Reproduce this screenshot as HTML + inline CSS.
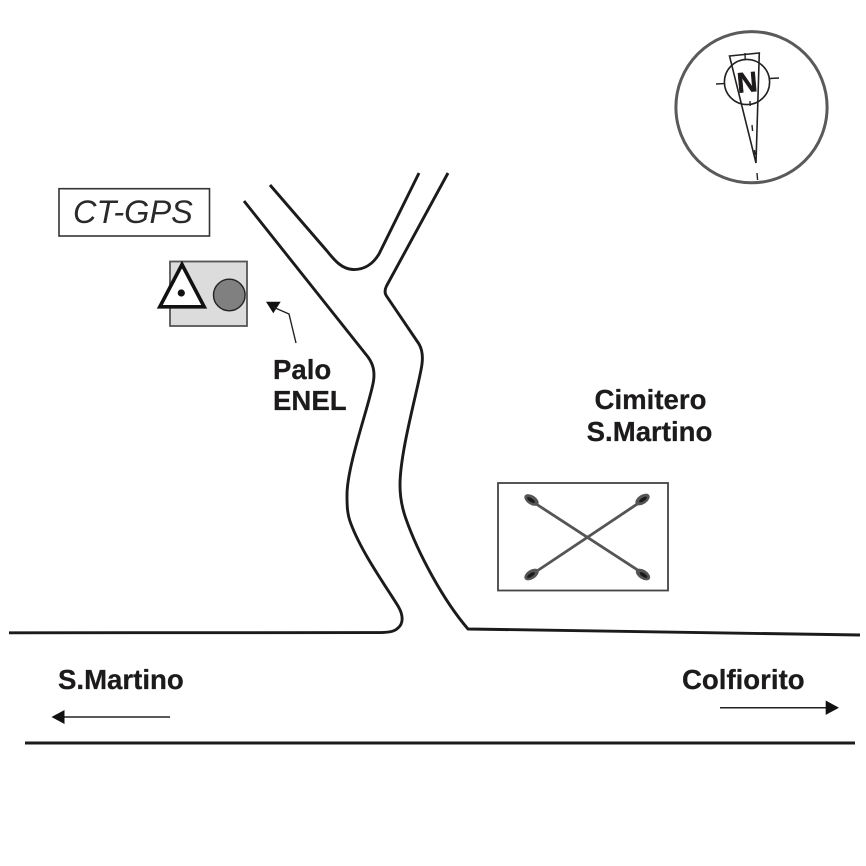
<!DOCTYPE html>
<html>
<head>
<meta charset="utf-8">
<style>
html,body{margin:0;padding:0;background:#fff;}
svg{display:block;}
text{font-family:"Liberation Sans",Arial,sans-serif;fill:#1c1a1b;}
.b{font-weight:bold;font-size:27.6px;stroke:#1c1a1b;stroke-width:0.25px;}
</style>
</head>
<body>
<svg width="866" height="866" viewBox="0 0 866 866" xmlns="http://www.w3.org/2000/svg">
<rect width="866" height="866" fill="#fff"/>

<!-- compass -->
<circle cx="751.5" cy="107.2" r="75.6" fill="none" stroke="#5a5a5a" stroke-width="3"/>
<circle cx="747" cy="82" r="22.6" fill="none" stroke="#222" stroke-width="1.6"/>
<path d="M729.5 56 L759.3 53 L756 163 Z" fill="none" stroke="#222" stroke-width="1.6"/>
<path d="M716 84 L724 83.6 M770 78.5 L779 78 M745 53 L745.2 59 M750 101 L750.2 106 M752 125 L752.6 131 M754.5 150 L755 155 M757 173 L757.6 180" stroke="#222" stroke-width="1.4" fill="none"/>
<text x="0" y="0" transform="translate(748 92) rotate(-5)" text-anchor="middle" style="font-weight:bold;font-size:28.5px;stroke:#1c1a1b;stroke-width:0.5px">N</text>

<!-- CT-GPS label -->
<rect x="59" y="188.7" width="150.5" height="47.3" fill="#fff" stroke="#333" stroke-width="1.6"/>
<text x="73" y="223" style="font-style:italic;font-size:32.5px;fill:#2a2a2a">CT-GPS</text>

<!-- station -->
<rect x="170" y="261.5" width="77" height="64.5" fill="#dcdcdc" stroke="#555" stroke-width="1.8"/>
<path d="M182 264.5 L159.8 306.8 L204.2 306.8 Z" fill="#fff" stroke="#111" stroke-width="3.6" stroke-linejoin="miter"/>
<circle cx="181.3" cy="293" r="3.6" fill="#111"/>
<circle cx="229.3" cy="295" r="15.8" fill="#808080" stroke="#222" stroke-width="1.4"/>

<!-- Palo pointer -->
<path d="M266 301.7 L280.7 301.7 L273.3 313.3 Z" fill="#111"/>
<path d="M273 307 L289 314 L296 343" fill="none" stroke="#222" stroke-width="1.4"/>
<text class="b" x="273" y="379">Palo</text>
<text class="b" x="273" y="410">ENEL</text>

<!-- roads -->
<g fill="none" stroke="#1c1a1b" stroke-width="2.9" stroke-linecap="butt" stroke-linejoin="round">
<path d="M270 185 L327 251 C335 261 342 269 353 269.5 C364 270 373 264 379 254 L419 173"/>
<path d="M244 201 L368 357 C373 364 375 371 373.5 381 C370 403 347 465 347 495 C347 505 347 514 351 524 C362 553 385 585 398 606 C404 616 403 624 398 628 C394 632 388 632.5 378 632.6 L9 632.8"/>
<path d="M448 173 L386.5 286 C384.5 290 384.5 293 386.5 296 L419 344 C422.5 350 423 356 422 364 C419.5 384 400 450 400 485 C400 498 402 508 406 519 C418 553 443 600 468 629 L860 635"/>
<path d="M25 743 L855 743"/>
</g>

<!-- Cimitero -->
<text class="b" x="650.5" y="409" text-anchor="middle">Cimitero</text>
<text class="b" x="649.5" y="441" text-anchor="middle">S.Martino</text>
<rect x="498" y="483" width="170" height="107.5" fill="#fff" stroke="#444" stroke-width="1.8"/>
<path d="M530 500 L644.5 574.5 M644 499.5 L531 575" stroke="#555" stroke-width="2.8" fill="none"/>
<g fill="#555">
<ellipse cx="531.5" cy="500" rx="8" ry="4.6" transform="rotate(33 531.5 500)"/>
<ellipse cx="642.5" cy="499.5" rx="8" ry="4.6" transform="rotate(-33 642.5 499.5)"/>
<ellipse cx="531.5" cy="574.5" rx="8" ry="4.6" transform="rotate(-33 531.5 574.5)"/>
<ellipse cx="643" cy="574.5" rx="8" ry="4.6" transform="rotate(33 643 574.5)"/>
</g>
<g fill="#1a1a1a">
<ellipse cx="531" cy="500" rx="4.5" ry="1.8" transform="rotate(33 531 500)"/>
<ellipse cx="643" cy="499.5" rx="4.5" ry="1.8" transform="rotate(-33 643 499.5)"/>
<ellipse cx="531" cy="575" rx="4.5" ry="1.8" transform="rotate(-33 531 575)"/>
<ellipse cx="643.5" cy="575" rx="4.5" ry="1.8" transform="rotate(33 643.5 575)"/>
</g>

<!-- direction labels -->
<text class="b" x="58" y="689">S.Martino</text>
<path d="M60 717 L170 717" stroke="#222" stroke-width="1.5"/>
<path d="M51.5 717 L64.5 710 L64.5 724 Z" fill="#111"/>

<text class="b" x="682" y="689">Colfiorito</text>
<path d="M720 707.7 L828 707.7" stroke="#222" stroke-width="1.5"/>
<path d="M839 707.7 L825.7 700.5 L825.7 714.9 Z" fill="#111"/>
</svg>
</body>
</html>
